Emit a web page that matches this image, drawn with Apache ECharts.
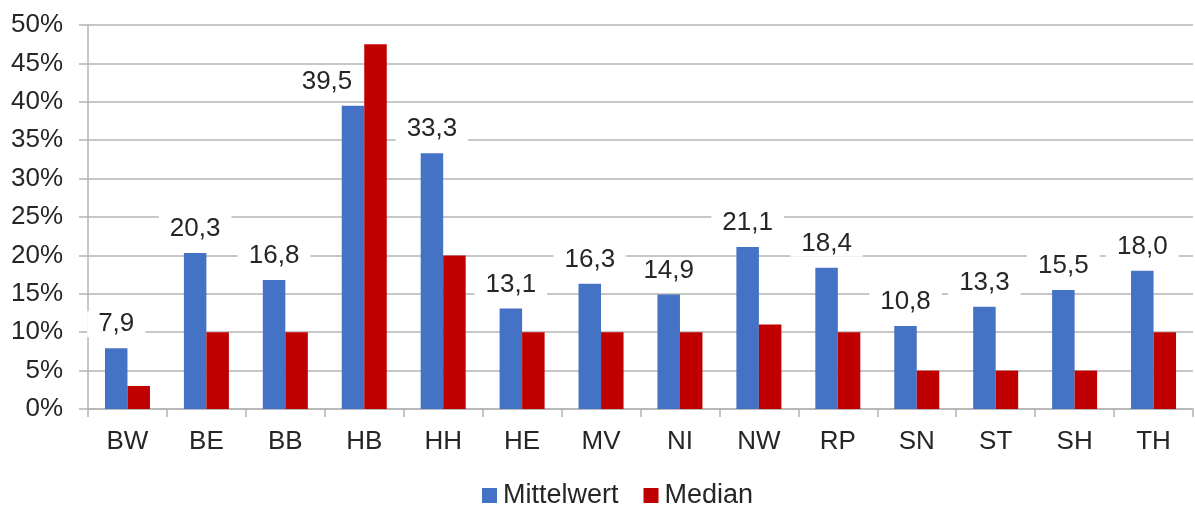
<!DOCTYPE html>
<html>
<head>
<meta charset="utf-8">
<script src="https://cdn.jsdelivr.net/npm/echarts@6/dist/echarts.min.js"></script>
<style>
  html, body { margin: 0; padding: 0; background: #fff; }
  #main { width: 1195px; height: 506px; }
</style>
</head>
<body>
<div id="main"></div>
<script>
var categories = ['BW', 'BE', 'BB', 'HB', 'HH', 'HE', 'MV', 'NI', 'NW', 'RP', 'SN', 'ST', 'SH', 'TH']
var mittelwert = [7.9, 20.3, 16.8, 39.5, 33.3, 13.1, 16.3, 14.9, 21.1, 18.4, 10.8, 13.3, 15.5, 18.0]
var median = [3, 10, 10, 47.5, 20, 10, 10, 10, 11, 10, 5, 5, 5, 10]

var font = 'Liberation Sans, Arial, sans-serif'
var textColor = '#262626'
var lineColor = '#b4b4b4'

// HB label sits left of its bar so it does not cover the tall median bar
var mittelData = mittelwert.map(function (v, i) {
  if (categories[i] === 'HB') {
    return { value: v, label: { offset: [-26, 0], padding: [0, 6] } }
  }
  return v
})

var myChart = echarts.init(document.getElementById('main'))
myChart.setOption({
  animation: false,
  textStyle: { fontFamily: font },
  grid: { left: 88, right: 2, top: 25, bottom: 97 },
  legend: {
    top: 477,
    left: 477,
    icon: 'rect',
    itemWidth: 15,
    itemHeight: 15,
    itemGap: 25,
    textStyle: { fontSize: 27, color: textColor, fontFamily: font, padding: [0, 0, 0, 1] },
    data: ['Mittelwert', 'Median']
  },
  xAxis: {
    type: 'category',
    data: categories,
    axisLine: { lineStyle: { color: lineColor, width: 1.5 } },
    axisTick: { show: true, length: 8, lineStyle: { color: lineColor, width: 1.5 } },
    axisLabel: { fontSize: 26, color: textColor, margin: 20, fontFamily: font }
  },
  yAxis: {
    type: 'value',
    min: 0,
    max: 50,
    interval: 5,
    axisLine: { show: true, lineStyle: { color: lineColor, width: 1.5 } },
    axisTick: { show: true, length: 9, lineStyle: { color: lineColor, width: 1.5 } },
    axisLabel: { fontSize: 26, color: textColor, margin: 25, formatter: '{value}%', fontFamily: font },
    splitLine: { lineStyle: { color: lineColor, width: 1.5 } }
  },
  series: [
    {
      name: 'Mittelwert',
      type: 'bar',
      data: mittelData,
      barWidth: 22.5,
      barGap: '0%',
      itemStyle: { color: '#4472C4' },
      label: {
        show: true,
        position: 'top',
        distance: 11,
        fontSize: 26,
        color: textColor,
        fontFamily: font,
        backgroundColor: '#fff',
        padding: [0, 11],
        formatter: function (p) {
          return p.value.toFixed(1).replace('.', ',')
        }
      }
    },
    {
      name: 'Median',
      type: 'bar',
      data: median,
      barWidth: 22.5,
      barGap: '0%',
      itemStyle: { color: '#C00000' }
    }
  ]
})
</script>
</body>
</html>
